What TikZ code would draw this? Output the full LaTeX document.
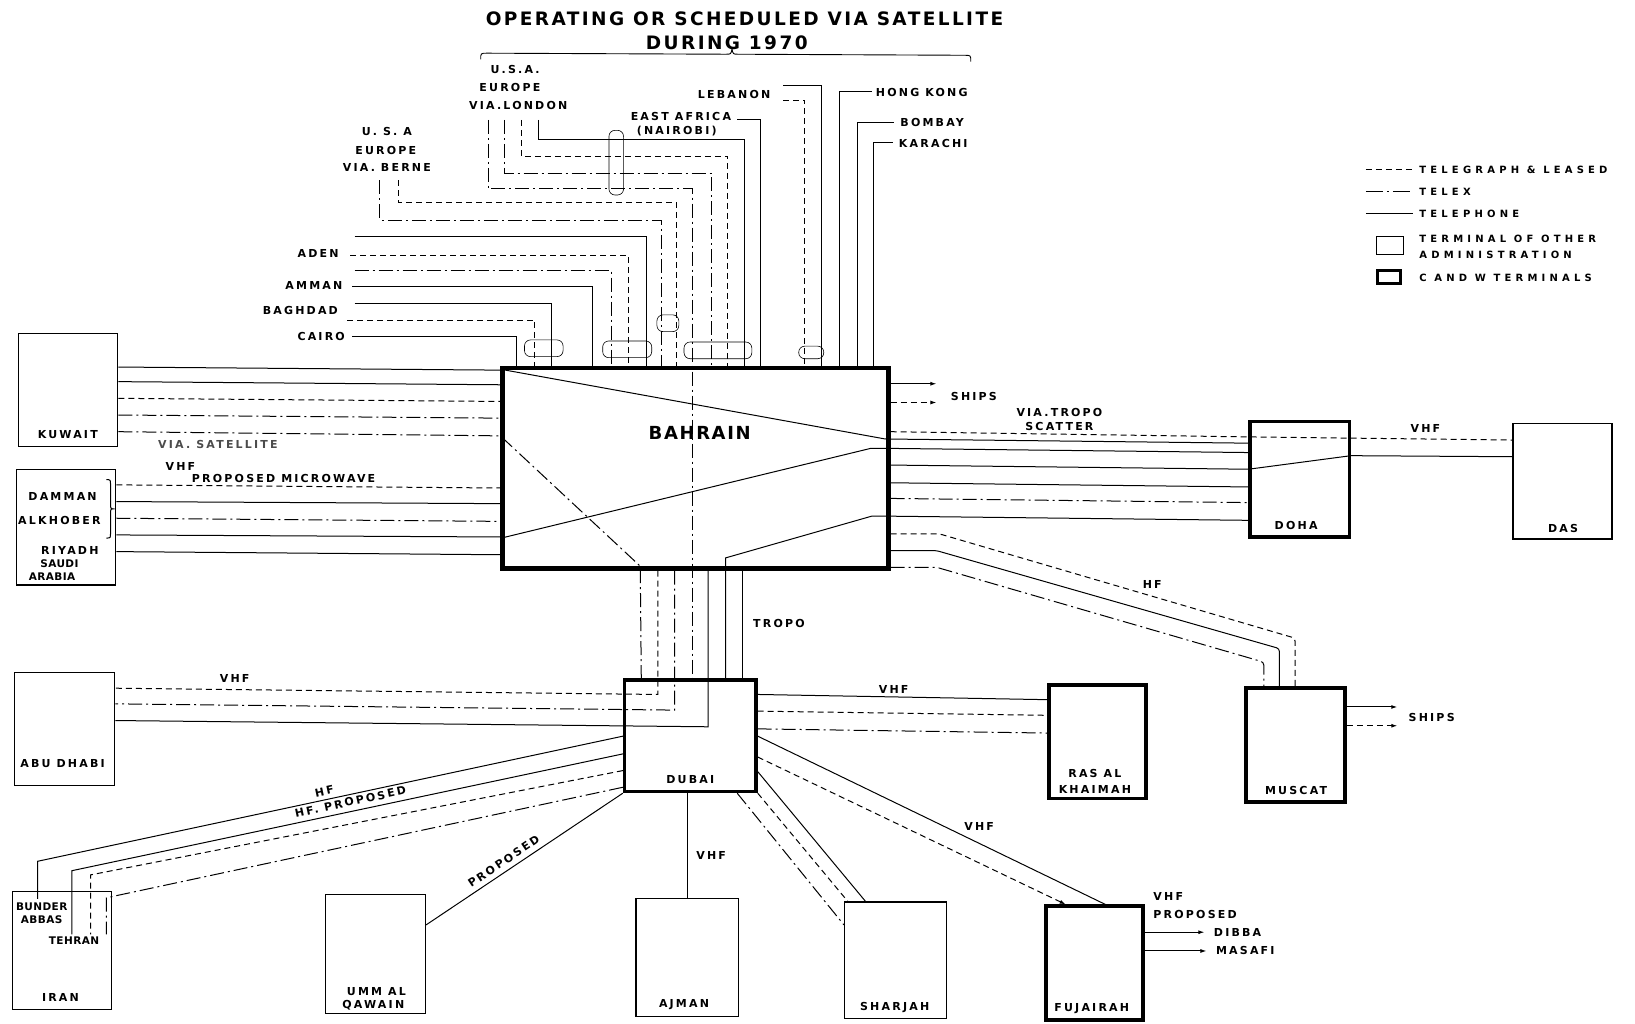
\documentclass[tikz,border=0pt]{standalone}
\usepackage{fontspec}
\newfontfamily\lfA{DejaVu Sans}[LetterSpace=20]
\newfontfamily\lfB{DejaVu Sans}[LetterSpace=4]
\newfontfamily\lfC{DejaVu Sans}[LetterSpace=42]
\newfontfamily\lfT{DejaVu Sans}[LetterSpace=13]
\newfontfamily\lfH{DejaVu Sans}[LetterSpace=9]
\usetikzlibrary{fit,arrows.meta}
\begin{document}
\begin{tikzpicture}[x=1.0427pt,y=-1.0427pt,
  tel/.style={line width=1pt},
  telg/.style={line width=1pt,dash pattern=on 6pt off 4pt},
  telx/.style={line width=1pt,dash pattern=on 14pt off 4pt on 2pt off 4pt},
  cw/.style={draw,line width=3.5pt,inner sep=0pt},
  cwb/.style={draw,line width=4.5pt,inner sep=0pt},
  oth/.style={draw,line width=1.3pt,inner sep=0pt},
  lb/.style={inner sep=0pt,font=\lfA\bfseries\fontsize{11}{12}\selectfont},
  lbs/.style={inner sep=0pt,font=\lfB\bfseries\fontsize{10.5}{11}\selectfont},
  lg/.style={inner sep=0pt,anchor=west,font=\lfC\bfseries\fontsize{10}{11}\selectfont},
  tt/.style={inner sep=0pt,font=\lfT\bfseries\fontsize{18.5}{20}\selectfont},
  bh/.style={inner sep=0pt,font=\lfH\bfseries\fontsize{18}{20}\selectfont},
  arr/.style={-{Latex[length=6pt,width=4pt]}},
  bub/.style={line width=0.6pt,rounded corners=6pt},
]
\useasboundingbox (0,0) rectangle (1568,982);

% ---------- boxes ----------
\node[oth,fit={(18,320)(113,428)}] (kuw) {};
\node[oth,fit={(16,450)(111,561)}] (sau) {};
\node[cwb,fit={(482,353)(852,545)}] (bah) {};
\node[cw,fit={(1199,404)(1294,515)}] (doh) {};
\node[oth,fit={(1451,406)(1546,517)}] (das) {};
\node[cw,fit={(599,652)(725,759)}] (dub) {};
\node[cw,fit={(1006,657)(1099,766)}] (rak) {};
\node[cw,fit={(1195,660)(1290,769)}] (mus) {};
\node[oth,fit={(14,645)(110,753)}] (abu) {};
\node[oth,fit={(12,855)(107,968)}] (ira) {};
\node[oth,fit={(312,858)(408,972)}] (umm) {};
\node[oth,fit={(610,862)(708,975)}] (ajm) {};
\node[oth,fit={(810,865)(908,977)}] (sha) {};
\node[cw,fit={(1003,869)(1096,978)}] (fuj) {};

% ---------- title ----------
\node[tt] (t1) at (714,18) {OPERATING OR SCHEDULED VIA SATELLITE};
\node[tt] (t2) at (697,41) {DURING 1970};
\draw[line width=0.9pt] (461,57) .. controls (461,51) .. (467,51) -- (696,52)
  .. controls (701,52) .. (702,47) .. controls (703,52) .. (708,52) -- (925,53)
  .. controls (931,53) .. (931,59);

% ---------- box labels ----------
\node[bh] (bahl) at (671,415) {BAHRAIN};
\node[lb] (kuwl) at (65,417) {KUWAIT};
\node[lb] (damm) at (60,476) {DAMMAN};
\node[lb] (alkh) at (57,499) {ALKHOBER};
\node[lb] (riya) at (67,528) {RIYADH};
\node[lbs] (saud) at (57,541) {SAUDI};
\node[lbs] (arab) at (50,553) {ARABIA};
\draw[line width=1pt] (102,460) .. controls (106,460) .. (106,465) -- (106,483)
  .. controls (106,488) .. (110,488) .. controls (106,488) .. (106,493) -- (106,511)
  .. controls (106,516) .. (102,516);
\node[lb] (dohl) at (1243,504) {DOHA};
\node[lb] (dasl) at (1499,507) {DAS};
\node[lb] (dubl) at (662,748) {DUBAI};
\node[lb] (rakl1) at (1050,742) {RAS AL};
\node[lb] (rakl2) at (1050,757) {KHAIMAH};
\node[lb] (musl) at (1243,758) {MUSCAT};
\node[lb] (abul) at (60,732) {ABU DHABI};
\node[lb] (iral) at (58,957) {IRAN};
\node[lbs] (bund) at (40,870) {BUNDER};
\node[lbs] (abba) at (40,882) {ABBAS};
\node[lbs] (tehr) at (71,902) {TEHRAN};
\node[lb] (umml1) at (361,951) {UMM AL};
\node[lb] (umml2) at (358,964) {QAWAIN};
\node[lb] (ajml) at (656,963) {AJMAN};
\node[lb] (shal) at (858,966) {SHARJAH};
\node[lb] (fujl) at (1047,967) {FUJAIRAH};

% ---------- top labels ----------
\node[lb] (usa1) at (494,67) {U.S.A.};
\node[lb] (eur1) at (489,84) {EUROPE};
\node[lb] (vlon) at (497,101) {VIA.LONDON};
\node[lb] (usa2) at (371,126) {U. S. A};
\node[lb] (eur2) at (370,144) {EUROPE};
\node[lb] (vber) at (371,161) {VIA. BERNE};
\node[lb] (leba) at (704,91) {LEBANON};
\node[lb] (eafr) at (653,112) {EAST AFRICA};
\node[lb] (nair) at (649,126) {(NAIROBI)};
\node[lb] (hong) at (884,89) {HONG KONG};
\node[lb] (bomb) at (894,117) {BOMBAY};
\node[lb] (kara) at (895,138) {KARACHI};
\node[lb] (aden) at (305,243) {ADEN};
\node[lb] (amma) at (301,274) {AMMAN};
\node[lb] (bagh) at (288,298) {BAGHDAD};
\node[lb] (cair) at (308,323) {CAIRO};

% ---------- other labels ----------
\node[lb,text=black!70] (vsat) at (209,426) {VIA. SATELLITE};
\node[lb] (vhf1) at (173,447) {VHF};
\node[lb] (pmic) at (272,459) {PROPOSED MICROWAVE};
\node[lb] (ships1) at (934,380) {SHIPS};
\node[lb] (vtro) at (1016,396) {VIA.TROPO};
\node[lb] (scat) at (1016,409) {SCATTER};
\node[lb] (vhf2) at (1367,411) {VHF};
\node[lb] (tropo) at (747,598) {TROPO};
\node[lb] (hf3) at (1105,561) {HF};
\node[lb] (vhf3) at (225,651) {VHF};
\node[lb] (vhf4) at (857,661) {VHF};
\node[lb] (ships2) at (1373,688) {SHIPS};
\node[lb,rotate=12] (hf1) at (311,759) {HF};
\node[lb,rotate=12] (hf2) at (336,769) {HF. PROPOSED};
\node[lb,rotate=34] (prop) at (483,826) {PROPOSED};
\node[lb] (vhf5) at (682,820) {VHF};
\node[lb] (vhf6) at (939,793) {VHF};
\node[lb,anchor=west] (vhf7) at (1106,860) {VHF};
\node[lb,anchor=west] (fprop) at (1106,877) {PROPOSED};
\node[lb,anchor=west] (dibb) at (1164,894) {DIBBA};
\node[lb,anchor=west] (masa) at (1166,912) {MASAFI};

% ---------- legend ----------
\draw[telg] (1310,163) -- (1355,163);
\draw[line width=1pt,dash pattern=on 17pt off 4pt on 2pt off 4pt] (1310,184) -- (1355,184);
\draw[tel] (1310,205) -- (1355,205);
\node[oth,fit={(1320,227)(1346,244)}] (lgo) {};
\node[cw,line width=3pt,fit={(1321,259)(1343,272)}] (lgc) {};
\node[lg] (lg1) at (1361,163) {TELEGRAPH \& LEASED};
\node[lg] (lg2) at (1361,184) {TELEX};
\node[lg] (lg3) at (1361,205) {TELEPHONE};
\node[lg] (lg4) at (1361,229) {TERMINAL OF OTHER};
\node[lg] (lg5) at (1361,244) {ADMINISTRATION};
\node[lg] (lg6) at (1361,266) {C AND W TERMINALS};

% ---------- Kuwait / Saudi to Bahrain ----------
\draw[tel] (kuw.east|-0,352) -- (485,355) -- (849,421) -- (doh.west|-0,425);
\draw[tel] (kuw.east|-0,366) -- (bah.west|-0,369);
\draw[telg] (kuw.east|-0,382) -- (bah.west|-0,385);
\draw[telx] (kuw.east|-0,398) -- (bah.west|-0,401);
\draw[telx] (kuw.east|-0,414) -- (bah.west|-0,418) -- (614,543) -- (615,0|-dub.north);
\draw[telg] (sau.east|-0,465) -- (bah.west|-0,468);
\draw[tel] (sau.east|-0,481) -- (bah.west|-0,483);
\draw[telx] (sau.east|-0,497) -- (bah.west|-0,500);
\draw[tel] (sau.east|-0,513) -- (485,515) -- (835,430) -- (852,430) -- (doh.west|-0,434);
\draw[tel] (sau.east|-0,529) -- (bah.west|-0,532);

% ---------- top feeders ----------
\draw[tel] (340,227) -| (620,0|-bah.north);
\draw[telg] (336,245) -| (603,0|-bah.north);
\draw[telx] (340,259) -| (586,0|-bah.north);
\draw[tel] (338,275) -| (568,0|-bah.north);
\draw[tel] (340,291) -| (529,0|-bah.north);
\draw[telg] (333,307) -| (513,0|-bah.north);
\draw[tel] (338,323) -| (495,0|-bah.north);
\draw[telx] (364,173) |- (634,211) -- (634,0|-bah.north);
\draw[telg] (382,173) |- (649,194) -- (649,0|-bah.north);
\draw[telx] (468,115) |- (664,181) -- (664,0|-dub.north);
\draw[telx] (484,115) |- (682,166) -- (682,0|-bah.north);
\draw[telg] (500,115) |- (698,150) -- (698,0|-bah.north);
\draw[tel] (516,115) |- (714,134) -- (714,0|-bah.north);
\draw[tel] (707,115) -| (729,0|-bah.north);
\draw[tel] (751,82) -| (788,0|-bah.north);
\draw[telg] (751,96) -| (772,0|-bah.north);
\draw[tel] (836,88) -| (805,0|-bah.north);
\draw[tel] (857,117) -| (822,0|-bah.north);
\draw[tel] (856,137) -| (838,0|-bah.north);
\draw[bub] (584,125) rectangle (598,187);
\draw[bub] (503,326) rectangle (540,342);
\draw[bub] (578,327) rectangle (625,343);
\draw[bub] (656,328) rectangle (721,344);
\draw[bub] (630,302) rectangle (651,318);
\draw[bub] (766,332) rectangle (790,344);

% ---------- Bahrain right ----------
\draw[tel,arr] (bah.east|-0,368) -- (898,368);
\draw[telg,arr] (bah.east|-0,386) -- (898,386);
\draw[telg] (bah.east|-0,414) -- (doh.west|-0,419) -- (das.west|-0,422);
\draw[tel] (bah.east|-0,446) -- (doh.west|-0,450) -- (doh.east|-0,437) -- (das.west|-0,438);
\draw[tel] (bah.east|-0,463) -- (doh.west|-0,467);
\draw[telx] (bah.east|-0,478) -- (doh.west|-0,482);
\draw[tel] (696,0|-dub.north) -- (696,535) -- (836,495) -- (852,495) -- (doh.west|-0,499);
\draw[telg,rounded corners=3pt] (bah.east|-0,512) -- (901,512) -- (1242,612) -- (1242,0|-mus.north);
\draw[tel,rounded corners=3pt] (bah.east|-0,528) -- (898,528) -- (1227,622) -- (1227,0|-mus.north);
\draw[telx,rounded corners=3pt] (bah.east|-0,544) -- (898,544) -- (1212,635) -- (1212,0|-mus.north);
\draw[tel,arr] (mus.east|-0,678) -- (1340,678);
\draw[telg,arr] (mus.east|-0,696) -- (1340,696);

% ---------- Bahrain to Dubai / Abu Dhabi ----------
\draw[telg] (631,0|-bah.south) -- (631,666) -- (abu.east|-0,660);
\draw[telx] (647,0|-bah.south) -- (647,681) -- (abu.east|-0,675);
\draw[tel] (679,0|-bah.south) -- (679,697) -- (abu.east|-0,691);
\draw[tel] (712,0|-bah.south) -- (712,0|-dub.north);

% ---------- Dubai to RAK ----------
\draw[tel] (dub.east|-0,666) -- (rak.west|-0,671);
\draw[telg] (dub.east|-0,682) -- (rak.west|-0,686);
\draw[telx] (dub.east|-0,699) -- (rak.west|-0,703);

% ---------- Dubai to Iran ----------
\draw[tel] (dub.west|-0,706) -- (36,826) -- (36,862);
\draw[tel] (dub.west|-0,723) -- (69,835) -- (69,896);
\draw[telg] (dub.west|-0,739) -- (87,839) -- (87,896);
\draw[telx] (dub.west|-0,755) -- (102,861) -- (102,896);

% ---------- Dubai to the south ----------
\draw[tel] (dub.south west) -- (umm.east|-0,887);
\draw[tel] (659,0|-dub.south) -- (659,0|-ajm.north);
\draw[tel] (dub.east|-0,740) -- (830,0|-sha.north);
\draw[telg] (dub.south east) -- (813,0|-sha.north);
\draw[telx] (707,0|-dub.south) -- (sha.west|-0,887);
\draw[tel] (dub.east|-0,706) -- (1060,0|-fuj.north);
\draw[telg,arr] (dub.east|-0,726) -- (1022,0|-fuj.north);
\draw[tel,arr] (fuj.east|-0,894) -- (1155,894);
\draw[tel,arr] (fuj.east|-0,912) -- (1157,912);
\end{tikzpicture}
\end{document}
